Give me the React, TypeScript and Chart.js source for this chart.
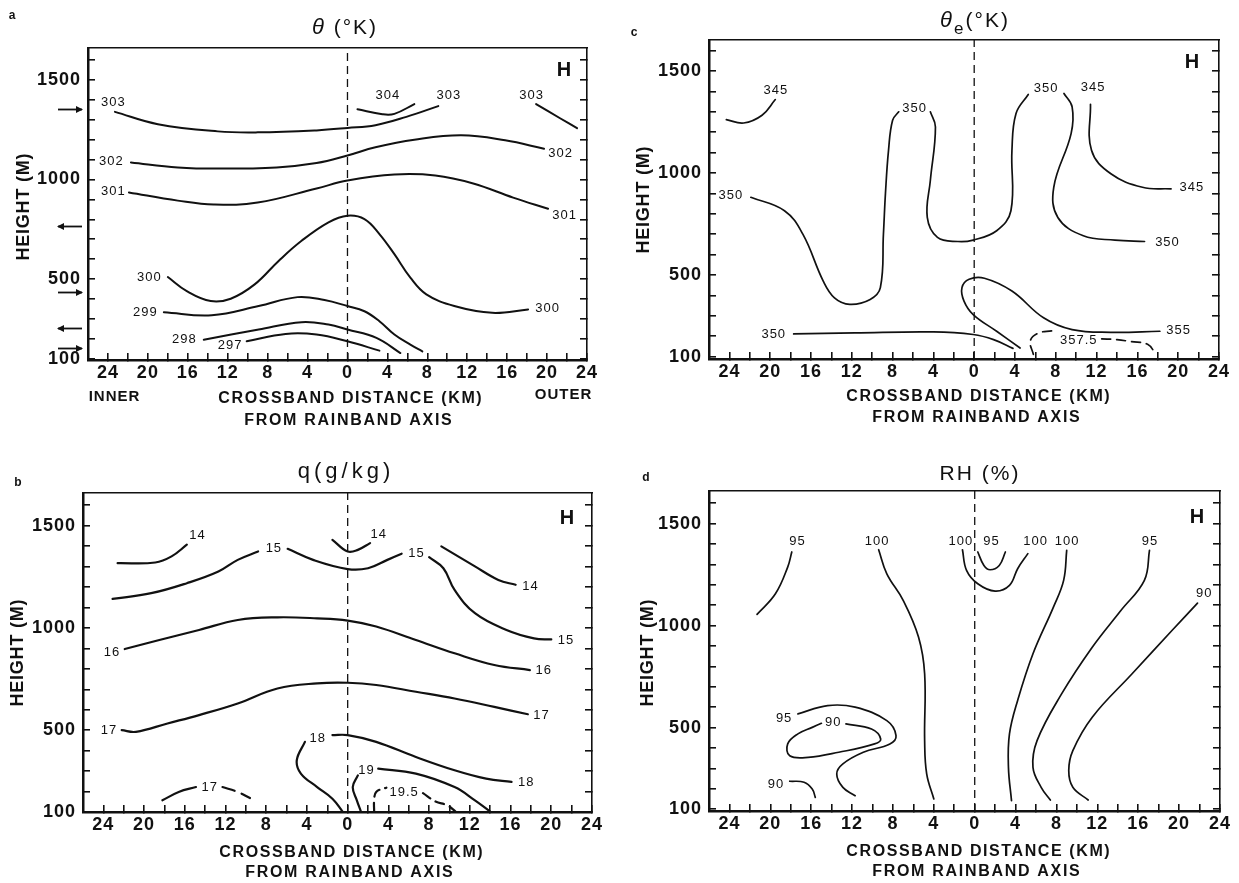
import { useEffect, useRef } from 'react';
import { Chart, registerables } from 'chart.js';

Chart.register(...registerables);

type P = [number, number];
type Label = [number, number, string];

const FONT = '"Liberation Sans", Arial, Helvetica, sans-serif';
const INK = '#111';

// ---------- axes ----------
const xTickValues = [-24, -22, -20, -18, -16, -14, -12, -10, -8, -6, -4, -2, 0, 2, 4, 6, 8, 10, 12, 14, 16, 18, 20, 22, 24];
const xLabelValues = [-24, -20, -16, -12, -8, -4, 0, 4, 8, 12, 16, 20, 24];
const yTickValues = [100, 200, 300, 400, 500, 600, 700, 800, 900, 1000, 1100, 1200, 1300, 1400, 1500, 1600];
const yLabelValues = [100, 500, 1000, 1500];

// ---------- panel a : theta (K) ----------
const a303L: P[] = [[-23.3, 1340], [-19.0, 1278], [-13.0, 1242], [-9.0, 1237], [-3.1, 1247], [0, 1259], [2.8, 1273], [5.9, 1315], [9.1, 1369]];
const a304: P[] = [[1.0, 1353], [3.5, 1328], [4.7, 1330], [6.7, 1379]];
const a303R: P[] = [[18.9, 1379], [21.3, 1308], [23.0, 1258]];
const a302: P[] = [[-21.7, 1086], [-17.0, 1061], [-13.0, 1055], [-7.1, 1061], [-3.1, 1083], [0, 1121], [2.8, 1162], [6.7, 1200], [11.4, 1222], [15.8, 1197], [19.7, 1155]];
const a301: P[] = [[-21.9, 935], [-17.0, 894], [-13.4, 874], [-9.0, 884], [-3.1, 955], [0, 995], [4.7, 1025], [8.8, 1020], [12.6, 980], [16.6, 909], [20.1, 853]];
const a300: P[] = [[-18.0, 510], [-16.1, 439], [-13.7, 389], [-11.7, 401], [-9.3, 473], [-6.9, 591], [-4.6, 692], [-1.9, 785], [0, 818], [1.7, 801], [3.2, 726], [4.7, 625], [6.3, 507], [7.9, 423], [10.7, 364], [14.5, 330], [18.1, 347]];
const a299: P[] = [[-18.4, 333], [-13.6, 318], [-8.9, 364], [-5.0, 409], [-2.3, 394], [0, 364], [1.7, 338], [3.2, 288], [4.7, 221], [6.3, 170], [7.5, 136]];
const a298: P[] = [[-14.4, 195], [-8.9, 246], [-4.6, 283], [-1.9, 271], [0, 246], [2.9, 204], [5.3, 128]];
const a297: P[] = [[-10.1, 187], [-6.2, 224], [-3.1, 221], [0, 187], [3.2, 140]];
const thetaLabels: Label[] = [
  [-23.5, 1390, '303'], [4.0, 1424, '304'], [10.1, 1424, '303'], [18.4, 1424, '303'],
  [-23.7, 1091, '302'], [21.3, 1130, '302'], [-23.5, 940, '301'], [21.7, 818, '301'],
  [-19.9, 510, '300'], [20.0, 352, '300'], [-20.3, 333, '299'], [-16.4, 197, '298'], [-11.8, 167, '297'],
];
const arrowHeights = [1353, 766, 436, 252, 155];
const arrowDirs = [1, -1, 1, -1, 1];

// ---------- panel c : theta_e (K) ----------
const c345L: P[] = [[-24.3, 1262], [-22.6, 1245], [-20.8, 1283], [-19.5, 1360]];
const c350a: P[] = [[-21.9, 881], [-18.6, 815], [-16.8, 700], [-14.8, 470], [-13.7, 388], [-12.2, 356], [-10.2, 380], [-9.2, 438], [-8.9, 700], [-8.7, 900], [-8.4, 1111], [-8.0, 1259], [-7.4, 1300]];
const c350b: P[] = [[-4.3, 1300], [-3.8, 1226], [-4.3, 963], [-4.6, 782], [-3.6, 684], [-1.6, 664], [-0.1, 671], [2.2, 717], [3.6, 815], [3.7, 1111], [4.1, 1292], [5.3, 1385]];
const c350c: P[] = [[8.8, 1390], [9.6, 1324], [9.5, 1193], [7.8, 930], [8.2, 782], [10.7, 692], [13.8, 671], [16.7, 664]];
const c345R: P[] = [[11.4, 1337], [11.5, 1111], [13.4, 996], [16.5, 930], [19.3, 922]];
const c355: P[] = [[4.5, 142], [2.2, 224], [-0.1, 306], [-1.0, 372], [-1.2, 438], [-0.5, 479], [1.0, 484], [3.7, 421], [6.8, 290], [9.6, 232], [13.4, 219], [18.2, 224]];
const c350low: P[] = [[-17.7, 211], [-11.7, 216], [-4.0, 221], [-0.1, 208], [1.9, 183], [3.8, 140]];
const c3575a: P[] = [[5.8, 111], [5.5, 177], [6.3, 215], [7.6, 226]];
const c3575b: P[] = [[12.5, 187], [14.0, 183], [15.4, 173], [17.0, 160], [17.8, 113]];
const thetaELabels: Label[] = [
  [-19.5, 1406, '345'], [-5.9, 1318, '350'], [7.0, 1415, '350'], [11.6, 1420, '345'],
  [21.3, 929, '345'], [18.9, 659, '350'], [-23.9, 889, '350'], [20.0, 228, '355'],
  [-19.7, 208, '350'], [10.2, 177, '357.5'],
];

// ---------- panel b : q (g/kg) ----------
const b14L: P[] = [[-22.6, 1317], [-18.9, 1320], [-17.3, 1350], [-15.8, 1407]];
const b15a: P[] = [[-23.1, 1142], [-19.3, 1170], [-15.8, 1219], [-12.7, 1276], [-10.8, 1333], [-8.8, 1374]];
const b15b: P[] = [[-5.9, 1387], [-3.4, 1333], [0, 1288], [2.0, 1292], [3.9, 1333], [5.3, 1363]];
const b15c: P[] = [[8.0, 1346], [9.4, 1292], [10.5, 1186], [12.5, 1072], [15.6, 990], [18.3, 949], [20.0, 944]];
const b14C: P[] = [[-1.5, 1431], [0, 1374], [1.0, 1382], [2.2, 1415]];
const b14R: P[] = [[9.2, 1399], [12.5, 1301], [14.8, 1235], [16.5, 1211]];
const b16: P[] = [[-21.9, 897], [-18.5, 941], [-14.6, 990], [-10.8, 1039], [-6.9, 1052], [-3.0, 1047], [0, 1036], [2.8, 1007], [6.7, 941], [10.5, 876], [14.4, 819], [17.9, 794]];
const b17: P[] = [[-22.2, 500], [-20.8, 492], [-17.7, 533], [-14.6, 574], [-10.8, 631], [-6.9, 704], [-3.0, 729], [0, 732], [2.8, 721], [6.7, 688], [10.5, 655], [14.4, 614], [17.7, 578]];
const b18R: P[] = [[-1.5, 476], [0, 476], [2.8, 443], [6.7, 369], [10.5, 304], [13.6, 263], [16.1, 247]];
const b18L: P[] = [[-4.2, 443], [-5.0, 353], [-4.6, 288], [-3.0, 222], [-1.5, 165], [-0.5, 102]];
const b19L: P[] = [[1.0, 279], [0.5, 222], [0.9, 157], [1.3, 102]];
const b19R: P[] = [[3.0, 312], [6.7, 288], [10.5, 222], [12.5, 157], [14.0, 102]];
const b195L: P[] = [[2.6, 102], [2.6, 157], [2.8, 198], [3.8, 219]];
const b195R: P[] = [[7.4, 192], [8.6, 152], [9.8, 132], [10.6, 102]];
const b17lowA: P[] = [[-18.2, 157], [-16.6, 198], [-14.9, 222]];
const b17lowB: P[] = [[-12.3, 222], [-10.8, 198], [-9.6, 168]];
const qLabels: Label[] = [
  [-14.8, 1451, '14'], [-7.3, 1391, '15'], [3.0, 1456, '14'], [6.7, 1366, '15'],
  [17.9, 1203, '14'], [21.4, 941, '15'], [-23.2, 881, '16'], [19.2, 794, '16'],
  [-23.5, 500, '17'], [19.0, 574, '17'], [-3.0, 462, '18'], [17.5, 243, '18'],
  [1.8, 304, '19'], [5.5, 198, '19.5'], [-13.6, 222, '17'],
];

// ---------- panel d : RH (%) ----------
const d95L: P[] = [[-21.3, 1055], [-19.5, 1156], [-18.3, 1287], [-17.9, 1361]];
const d100L: P[] = [[-9.4, 1372], [-8.6, 1254], [-7.0, 1124], [-5.5, 944], [-4.9, 764], [-4.9, 436], [-4.7, 273], [-4.0, 150]];
const d100C: P[] = [[-1.2, 1372], [-0.8, 1271], [0.3, 1205], [2.0, 1169], [3.4, 1197], [4.2, 1279], [5.2, 1353]];
const d95C: P[] = [[0.3, 1361], [0.9, 1295], [1.5, 1274], [2.4, 1295], [3.0, 1361]];
const d100R: P[] = [[9.0, 1369], [8.7, 1222], [7.7, 1091], [5.7, 862], [4.2, 633], [3.4, 469], [3.3, 305], [3.6, 142]];
const d95R: P[] = [[17.1, 1369], [16.6, 1222], [14.3, 1074], [11.5, 894], [8.5, 665], [6.1, 436], [5.7, 305], [6.5, 207], [7.4, 145]];
const d90R: P[] = [[21.8, 1110], [19.3, 976], [15.4, 764], [11.5, 551], [9.6, 387], [9.2, 289], [9.6, 207], [11.1, 145]];
const d95loop: P[] = [[-17.3, 567], [-14.4, 608], [-11.7, 600], [-8.6, 534], [-7.7, 461], [-8.3, 420], [-10.9, 379], [-12.9, 322], [-13.5, 273], [-12.9, 207], [-11.7, 166]];
const d90loop: P[] = [[-12.6, 518], [-10.1, 493], [-9.2, 444], [-9.8, 420], [-13.3, 379], [-16.3, 354], [-18.1, 362], [-18.3, 420], [-17.3, 469], [-15.9, 501], [-15.0, 521]];
const d90LL: P[] = [[-18.1, 237], [-16.7, 232], [-15.9, 199], [-15.6, 158]];
const rhLabels: Label[] = [
  [-17.4, 1415, '95'], [-9.6, 1415, '100'], [-1.4, 1415, '100'], [1.6, 1415, '95'],
  [5.9, 1415, '100'], [9.0, 1415, '100'], [17.1, 1415, '95'], [22.4, 1156, '90'],
  [-18.7, 547, '95'], [-13.9, 526, '90'], [-19.5, 223, '90'],
];

// ---------- layout specs ----------
interface Line { pts: P[]; dash?: number[] }
interface TitlePart { t: string; font: string; dy?: number }
interface Spec {
  key: string; left: number; top: number; width: number; height: number;
  area: { left: number; right: number; top: number; bottom: number };
  yMin: number; yMax: number; lineWidth: number;
  lines: Line[]; labels: Label[];
  letter: { x: number; y: number };
  title: { parts: TitlePart[]; cx: number; baseline: number; spacing: number };
  h: { x: number; y: number };
  yTitle: { x: number; y: number };
  xTitle: { cx1: number; y1: number; cx2: number; y2: number };
  side?: { t: string; x: number; y: number }[];
  arrows?: boolean;
}

const DASH = [9, 6];

const specs: Spec[] = [
  {
    key: 'a', left: 0, top: 0, width: 620, height: 440,
    area: { left: 88, right: 587, top: 48, bottom: 360 },
    yMin: 93, yMax: 1661, lineWidth: 2,
    lines: [a303L, a304, a303R, a302, a301, a300, a299, a298, a297].map((pts) => ({ pts })),
    labels: thetaLabels,
    letter: { x: 12, y: 16 },
    title: { parts: [{ t: 'θ', font: `italic 22px ${FONT}` }, { t: ' (°K)', font: `21px ${FONT}` }], cx: 345, baseline: 34, spacing: 2 },
    h: { x: 564, y: 70 },
    yTitle: { x: 24, y: 207 },
    xTitle: { cx1: 350, y1: 399, cx2: 348, y2: 421 },
    side: [{ t: 'INNER', x: 114, y: 397 }, { t: 'OUTER', x: 563, y: 395 }],
    arrows: true,
  },
  {
    key: 'c', left: 620, top: 0, width: 619, height: 440,
    area: { left: 89, right: 599, top: 40, bottom: 359 },
    yMin: 88, yMax: 1652, lineWidth: 1.7,
    lines: [
      { pts: c345L }, { pts: c350a }, { pts: c350b }, { pts: c350c }, { pts: c345R },
      { pts: c355 }, { pts: c350low }, { pts: c3575a, dash: DASH }, { pts: c3575b, dash: DASH },
    ],
    labels: thetaELabels,
    letter: { x: 14, y: 33 },
    title: {
      parts: [{ t: 'θ', font: `italic 22px ${FONT}` }, { t: 'e', font: `17px ${FONT}`, dy: 7 }, { t: '(°K)', font: `21px ${FONT}` }],
      cx: 355, baseline: 27, spacing: 2,
    },
    h: { x: 572, y: 62 },
    yTitle: { x: 24, y: 200 },
    xTitle: { cx1: 358, y1: 397, cx2: 356, y2: 418 },
  },
  {
    key: 'b', left: 0, top: 440, width: 620, height: 443,
    area: { left: 83, right: 592, top: 53, bottom: 372 },
    yMin: 100, yMax: 1660, lineWidth: 2.2,
    lines: [
      { pts: b14L }, { pts: b15a }, { pts: b15b }, { pts: b15c }, { pts: b14C }, { pts: b14R },
      { pts: b16 }, { pts: b17 }, { pts: b18R }, { pts: b18L }, { pts: b19L }, { pts: b19R },
      { pts: b195L, dash: DASH }, { pts: b195R, dash: DASH },
      { pts: b17lowA }, { pts: b17lowB, dash: [13, 7] },
    ],
    labels: qLabels,
    letter: { x: 18, y: 43 },
    title: { parts: [{ t: 'q(g/kg)', font: `22px ${FONT}` }], cx: 346, baseline: 38, spacing: 4 },
    h: { x: 567, y: 78 },
    yTitle: { x: 18, y: 213 },
    xTitle: { cx1: 351, y1: 413, cx2: 349, y2: 433 },
  },
  {
    key: 'd', left: 620, top: 440, width: 619, height: 443,
    area: { left: 89, right: 600, top: 51, bottom: 371 },
    yMin: 91, yMax: 1660, lineWidth: 1.7,
    lines: [d95L, d100L, d100C, d95C, d100R, d95R, d90R, d95loop, d90loop, d90LL].map((pts) => ({ pts })),
    labels: rhLabels,
    letter: { x: 26, y: 38 },
    title: { parts: [{ t: 'RH (%)', font: `21px ${FONT}` }], cx: 360, baseline: 40, spacing: 2 },
    h: { x: 577, y: 77 },
    yTitle: { x: 28, y: 213 },
    xTitle: { cx1: 358, y1: 412, cx2: 356, y2: 432 },
  },
];

function drawParts(ctx: CanvasRenderingContext2D, parts: TitlePart[], cx: number, baseline: number, spacing: number) {
  (ctx as any).letterSpacing = `${spacing}px`;
  const widths = parts.map((p) => { ctx.font = p.font; return ctx.measureText(p.t).width; });
  const total = widths.reduce((s, w) => s + w, 0);
  let x = cx - total / 2;
  ctx.textAlign = 'left';
  ctx.textBaseline = 'alphabetic';
  parts.forEach((p, i) => {
    ctx.font = p.font;
    ctx.fillText(p.t, x, baseline + (p.dy || 0));
    x += widths[i];
  });
}

function text(ctx: CanvasRenderingContext2D, s: string, x: number, y: number, font: string, spacing = 0) {
  (ctx as any).letterSpacing = `${spacing}px`;
  ctx.font = font;
  ctx.textAlign = 'center';
  ctx.textBaseline = 'middle';
  ctx.fillText(s, x + spacing / 2, y);
}

function makeDecor(spec: Spec) {
  return {
    id: 'decor' + spec.key,
    beforeDraw(chart: any) {
      (chart.ctx as any).letterSpacing = '1px';
    },
    afterDraw(chart: any) {
      const ctx = chart.ctx as CanvasRenderingContext2D;
      const xs = chart.scales.x;
      const ys = chart.scales.y;
      ctx.save();
      ctx.fillStyle = INK;
      ctx.strokeStyle = INK;
      // contour labels
      spec.labels.forEach(([x, y, t]) => {
        text(ctx, t, xs.getPixelForValue(x), ys.getPixelForValue(y), `13px ${FONT}`, 1);
      });
      // panel letter
      text(ctx, spec.key, spec.letter.x, spec.letter.y, `bold 12px ${FONT}`);
      // title
      drawParts(ctx, spec.title.parts, spec.title.cx, spec.title.baseline, spec.title.spacing);
      // H
      text(ctx, 'H', spec.h.x, spec.h.y, `bold 20px ${FONT}`);
      // y title
      ctx.save();
      ctx.translate(spec.yTitle.x, spec.yTitle.y);
      ctx.rotate(-Math.PI / 2);
      text(ctx, 'HEIGHT (M)', 0, 0, `bold 18px ${FONT}`, 0.8);
      ctx.restore();
      // x title
      text(ctx, 'CROSSBAND DISTANCE (KM)', spec.xTitle.cx1, spec.xTitle.y1, `bold 16px ${FONT}`, 1.6);
      text(ctx, 'FROM RAINBAND AXIS', spec.xTitle.cx2, spec.xTitle.y2, `bold 16px ${FONT}`, 1.7);
      (spec.side || []).forEach((s) => text(ctx, s.t, s.x, s.y, `bold 15px ${FONT}`, 1));
      // flight-leg arrows
      if (spec.arrows) {
        ctx.lineWidth = 1.8;
        arrowHeights.forEach((h, i) => {
          const y = Math.round(ys.getPixelForValue(h)) + 0.5;
          const x0 = 58, x1 = 82;
          ctx.beginPath();
          ctx.moveTo(x0, y);
          ctx.lineTo(x1, y);
          ctx.stroke();
          const tip = arrowDirs[i] > 0 ? x1 + 1 : x0 - 1;
          const back = arrowDirs[i] > 0 ? tip - 7 : tip + 7;
          ctx.beginPath();
          ctx.moveTo(tip, y);
          ctx.lineTo(back, y - 3.5);
          ctx.lineTo(back, y + 3.5);
          ctx.closePath();
          ctx.fill();
        });
      }
      ctx.restore();
    },
  };
}

function buildConfig(spec: Spec): any {
  const datasets: any[] = spec.lines.map((l) => ({
    data: l.pts.map(([x, y]) => ({ x, y })),
    borderColor: INK,
    borderWidth: spec.lineWidth,
    borderDash: l.dash || [],
    borderCapStyle: 'round',
    borderJoinStyle: 'round',
    pointRadius: 0,
    tension: 0.4,
    fill: false,
  }));
  datasets.push({
    data: [{ x: 0, y: spec.yMin }, { x: 0, y: spec.yMax }],
    borderColor: INK,
    borderWidth: 1.3,
    borderDash: [8, 5],
    pointRadius: 0,
    tension: 0,
    fill: false,
  });
  const tickFont = { family: FONT, size: 18, weight: 'bold' as const };
  const yTicks = (s: any) => { s.ticks = yTickValues.map((v) => ({ value: v })); };
  return {
    type: 'line',
    data: { datasets },
    options: {
      responsive: false,
      animation: false,
      devicePixelRatio: 1,
      events: [],
      layout: { padding: { left: 0, right: spec.width - spec.area.right, top: spec.area.top, bottom: 0 } },
      plugins: { legend: { display: false }, tooltip: { enabled: false }, title: { display: false } },
      scales: {
        x: {
          type: 'linear', position: 'bottom', min: -26, max: 24,
          afterBuildTicks: (s: any) => { s.ticks = xTickValues.map((v) => ({ value: v })); },
          afterFit: (s: any) => { s.height = spec.height - spec.area.bottom; s.paddingLeft = 0; s.paddingRight = 0; },
          ticks: {
            autoSkip: false, maxRotation: 0, minRotation: 0, padding: 9, color: INK, font: tickFont,
            callback: (v: any) => (xLabelValues.includes(Number(v)) ? String(Math.abs(Number(v))) : ''),
          },
          grid: { drawOnChartArea: false, drawTicks: true, tickLength: -7, color: INK, lineWidth: 1.6 },
          border: { display: true, color: INK, width: 2.5 },
        },
        xTop: {
          type: 'linear', position: 'top', min: -26, max: 24,
          afterFit: (s: any) => { s.height = 0; s.paddingLeft = 0; s.paddingRight = 0; },
          ticks: { display: false },
          grid: { display: false },
          border: { display: true, color: INK, width: 1.6 },
        },
        y: {
          type: 'linear', position: 'left', min: spec.yMin, max: spec.yMax,
          afterBuildTicks: yTicks,
          afterFit: (s: any) => { s.width = spec.area.left; s.paddingTop = 0; s.paddingBottom = 0; },
          ticks: {
            autoSkip: false, padding: 14, color: INK, font: tickFont,
            callback: (v: any) => (yLabelValues.includes(Number(v)) ? String(v) : ''),
          },
          grid: { drawOnChartArea: false, drawTicks: true, tickLength: -7, color: INK, lineWidth: 1.6 },
          border: { display: true, color: INK, width: 2.5 },
        },
        yRight: {
          type: 'linear', position: 'right', min: spec.yMin, max: spec.yMax,
          afterBuildTicks: yTicks,
          afterFit: (s: any) => { s.width = 0; s.paddingTop = 0; s.paddingBottom = 0; },
          ticks: { display: false },
          grid: { drawOnChartArea: false, drawTicks: true, tickLength: -7, color: INK, lineWidth: 1.6 },
          border: { display: true, color: INK, width: 1.6 },
        },
      },
    },
    plugins: [makeDecor(spec)],
  };
}

function Panel({ spec }: { spec: Spec }) {
  const ref = useRef<HTMLCanvasElement>(null);
  useEffect(() => {
    if (!ref.current) return;
    const chart = new Chart(ref.current, buildConfig(spec));
    return () => chart.destroy();
  }, [spec]);
  return (
    <canvas
      ref={ref}
      width={spec.width}
      height={spec.height}
      style={{ position: 'absolute', left: spec.left, top: spec.top, width: spec.width, height: spec.height }}
    />
  );
}

export default function App() {
  return (
    <div style={{ position: 'absolute', left: 0, top: 0, width: 1239, height: 883, background: '#fff', overflow: 'hidden' }}>
      {specs.map((s) => <Panel key={s.key} spec={s} />)}
    </div>
  );
}
